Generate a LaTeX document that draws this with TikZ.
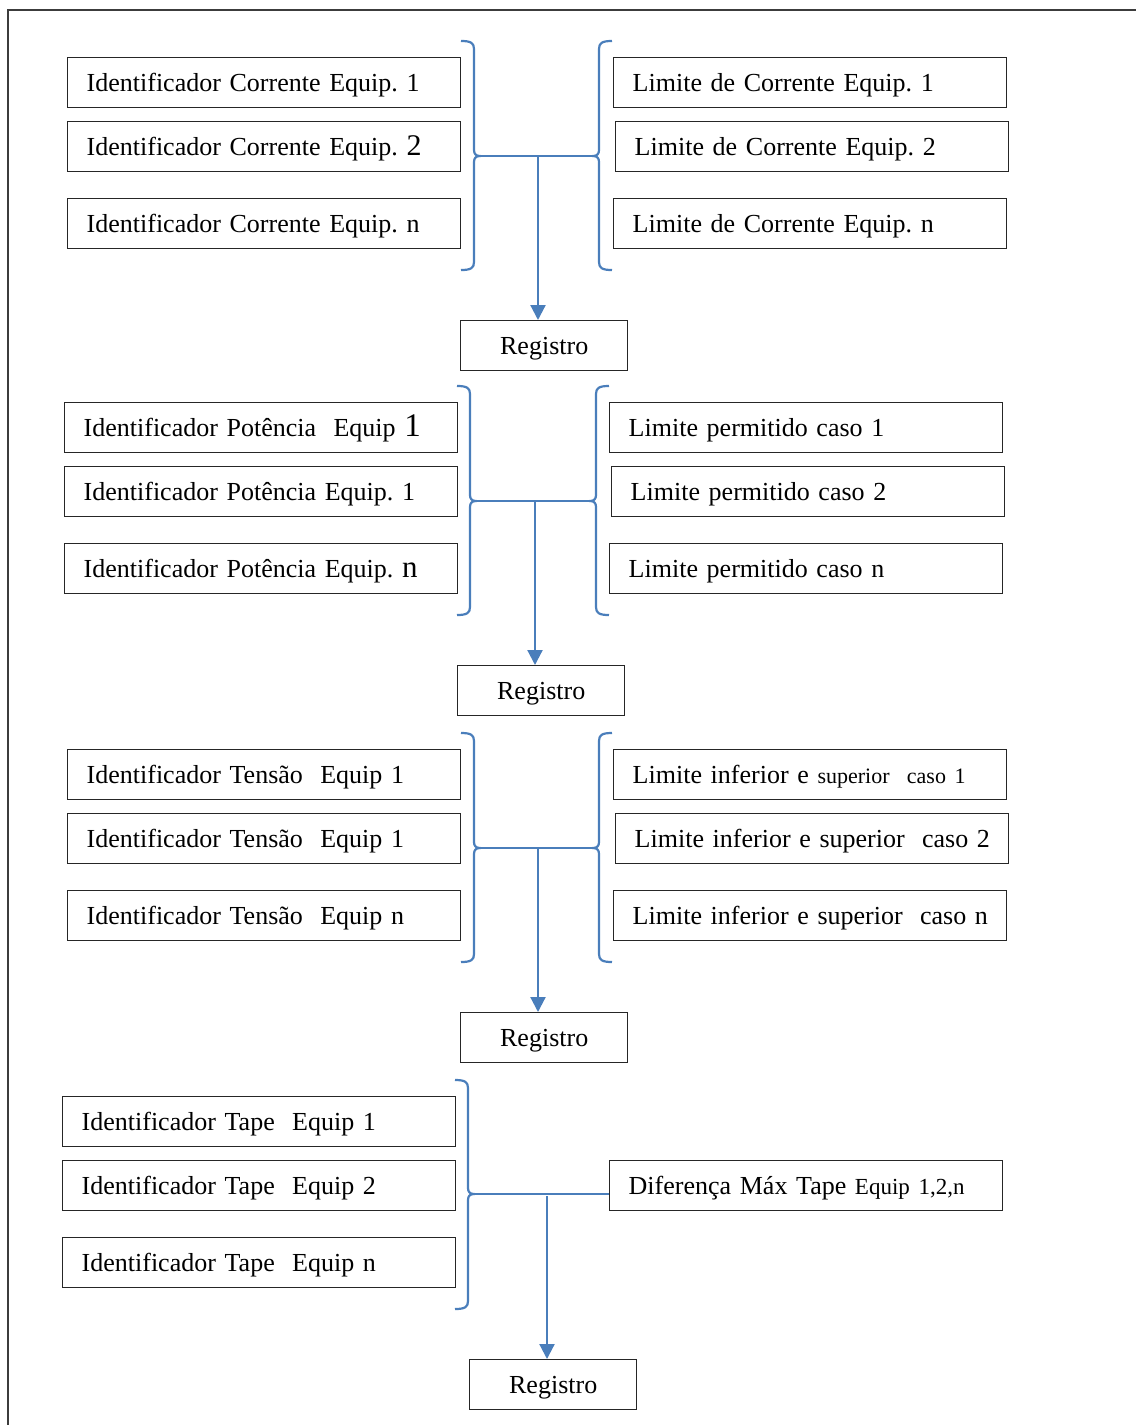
\documentclass[tikz,border=0pt]{standalone}
\usepackage{fontspec}
\setmainfont{Liberation Serif}
\usetikzlibrary{arrows.meta}
\definecolor{linkblue}{RGB}{74,126,187}
\definecolor{framegray}{RGB}{60,60,60}
\newcommand{\upsz}[2]{{\fontsize{#1}{#1}\selectfont #2}}
% curly brace: x, top, middle, bottom, direction (+1 points right, -1 points left)
\newcommand{\curlybrace}[5]{%
  \draw[bluebrace] ({#1-13*#5},#2) .. controls ({#1-3*#5},#2) and (#1,{#2+2}) .. (#1,{#2+8})
    -- (#1,{#3-6}) .. controls (#1,{#3-2}) and ({#1+2*#5},#3) .. ({#1+6*#5},#3)
    .. controls ({#1+2*#5},#3) and (#1,{#3+2}) .. (#1,{#3+6})
    -- (#1,{#4-8}) .. controls (#1,{#4-2}) and ({#1-3*#5},#4) .. ({#1-13*#5},#4);}
\begin{document}
\frenchspacing
\begin{tikzpicture}[x=1pt,y=-1pt,
  every node/.style={font=\fontsize{26}{30}\selectfont, text height=20pt, text depth=2pt},
  itembox/.style={draw=black!85, line width=1.4pt, anchor=north west,
    minimum height=50pt, text width=355pt, inner xsep=19pt, inner ysep=0pt, align=left,
    execute at begin node={\frenchspacing\hbox\bgroup},
    execute at end node={\egroup}},
  regbox/.style={draw=black!85, line width=1.4pt, anchor=north west,
    minimum height=50pt, minimum width=167pt, inner sep=0pt},
  bluebrace/.style={draw=linkblue, line width=2.2pt},
  blueline/.style={draw=linkblue, line width=2.2pt},
  bluearrow/.style={draw=linkblue, line width=2.2pt,
    -{Triangle[width=15pt,length=15pt,fill=linkblue]}}]
\useasboundingbox (0,0) rectangle (1136,1425);
% outer frame (top and left edges)
\draw[framegray, line width=1.5pt] (8,1425) -- (8,10) -- (1136,10);

% ---- section 1: corrente
\node[itembox] (c1) at (67,57) {Identificador Corrente Equip. 1};
\node[itembox] (c2) at (67,121) {Identificador Corrente Equip. \upsz{30}{2}};
\node[itembox] (c3) at (67,198) {Identificador Corrente Equip. n};
\node[itembox] (lc1) at (613,57) {Limite de Corrente Equip. 1};
\node[itembox] (lc2) at (615,121) {Limite de Corrente Equip. 2};
\node[itembox] (lc3) at (613,198) {Limite de Corrente Equip. n};
\curlybrace{474}{41}{156}{270}{1}
\curlybrace{599}{41}{156}{270}{-1}
\coordinate (bl1) at (480,156);
\coordinate (br1) at (593,156);
\coordinate (j1) at (538,156);
\node[regbox] (reg1) at (460,320) {Registro};
\draw[blueline] (bl1) -- (br1);
\draw[bluearrow] (j1) -- (j1 |- reg1.north);

% ---- section 2: potencia
\node[itembox] (p1) at (64,402) {Identificador Potência\ \ Equip \upsz{33}{1}};
\node[itembox] (p2) at (64,466) {Identificador Potência Equip. 1};
\node[itembox] (p3) at (64,543) {Identificador Potência Equip. \upsz{31}{n}};
\node[itembox] (lp1) at (609,402) {Limite permitido caso 1};
\node[itembox] (lp2) at (611,466) {Limite permitido caso 2};
\node[itembox] (lp3) at (609,543) {Limite permitido caso n};
\curlybrace{470}{386}{501}{615}{1}
\curlybrace{596}{386}{501}{615}{-1}
\coordinate (bl2) at (476,501);
\coordinate (br2) at (590,501);
\coordinate (j2) at (535,501);
\node[regbox] (reg2) at (457,665) {Registro};
\draw[blueline] (bl2) -- (br2);
\draw[bluearrow] (j2) -- (j2 |- reg2.north);

% ---- section 3: tensao
\node[itembox] (t1) at (67,749) {Identificador Tensão\ \ Equip 1};
\node[itembox] (t2) at (67,813) {Identificador Tensão\ \ Equip 1};
\node[itembox] (t3) at (67,890) {Identificador Tensão\ \ Equip n};
\node[itembox] (lt1) at (613,749) {Limite inferior e \upsz{22}{superior\ \ caso 1}};
\node[itembox] (lt2) at (615,813) {Limite inferior e superior\ \ caso 2};
\node[itembox] (lt3) at (613,890) {Limite inferior e superior\ \ caso n};
\curlybrace{474}{733}{848}{962}{1}
\curlybrace{599}{733}{848}{962}{-1}
\coordinate (bl3) at (480,848);
\coordinate (br3) at (593,848);
\coordinate (j3) at (538,848);
\node[regbox] (reg3) at (460,1012) {Registro};
\draw[blueline] (bl3) -- (br3);
\draw[bluearrow] (j3) -- (j3 |- reg3.north);

% ---- section 4: tape
\node[itembox] (tp1) at (62,1096) {Identificador Tape\ \ Equip 1};
\node[itembox] (tp2) at (62,1160) {Identificador Tape\ \ Equip 2};
\node[itembox] (tp3) at (62,1237) {Identificador Tape\ \ Equip n};
\node[itembox] (dif) at (609,1160) {Diferença Máx Tape \upsz{23}{Equip 1,2,n}};
\curlybrace{468}{1080}{1194}{1309}{1}
\coordinate (bl4) at (474,1194);
\coordinate (j4) at (547,1196);
\node[regbox] (reg4) at (469,1359) {Registro};
\draw[blueline] (bl4) -- (bl4 -| dif.west);
\draw[bluearrow] (j4) -- (j4 |- reg4.north);
\end{tikzpicture}
\end{document}
